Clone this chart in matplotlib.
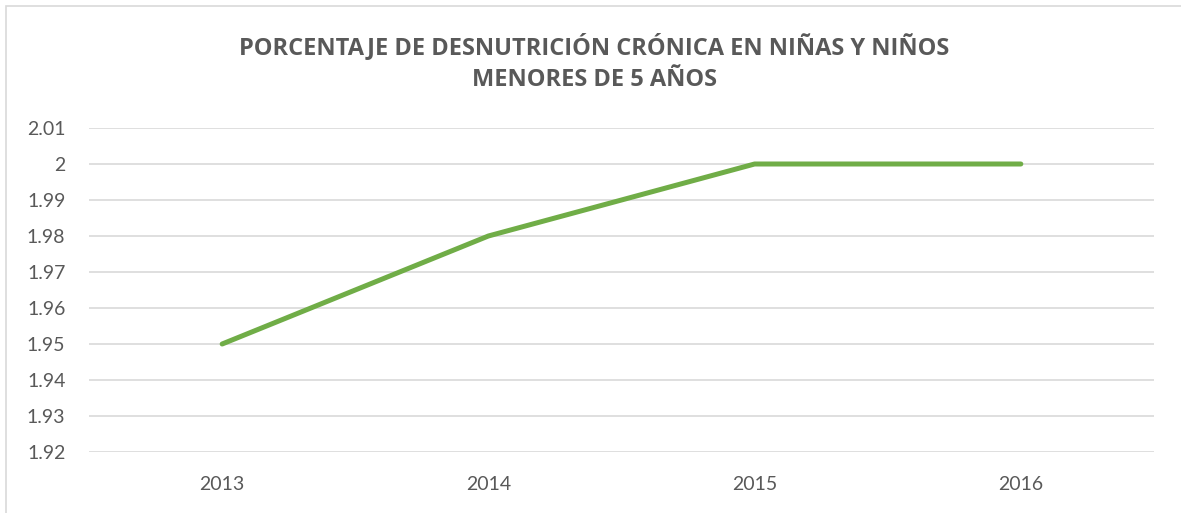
# Gráfico de desnutrición crónica (menores de 5 años)
import matplotlib
matplotlib.use("Agg")
import matplotlib.pyplot as plt
from matplotlib.patches import Rectangle

# -----------------------------------------
# Datos
# -----------------------------------------
anios = ["2013", "2014", "2015", "2016"]
porcentaje = [1.95, 1.98, 2.00, 2.00]
ticks_y = [1.92, 1.93, 1.94, 1.95, 1.96, 1.97, 1.98, 1.99, 2.00, 2.01]
etiquetas_y = ["1.92", "1.93", "1.94", "1.95", "1.96", "1.97", "1.98", "1.99", "2", "2.01"]

titulo = "PORCENTAJE DE DESNUTRICIÓN CRÓNICA EN NIÑAS Y NIÑOS\nMENORES DE 5 AÑOS"

GRIS_TEXTO = "#595959"
VERDE = "#70AD47"

plt.rcParams["font.family"] = ["Lato", "DejaVu Sans"]

fig = plt.figure(figsize=(11.81, 5.13), dpi=100)
ax = fig.add_axes([0.0754, 0.1189, 0.9017, 0.6316])

x = list(range(len(anios)))
ax.plot(x, porcentaje, color=VERDE, linewidth=3.6, solid_capstyle="round", zorder=3)

ax.set_xlim(-0.5, len(anios) - 0.5)
ax.set_ylim(1.92, 2.01)
ax.set_yticks(ticks_y)
ax.set_yticklabels(etiquetas_y)
ax.set_xticks(x)
ax.set_xticklabels(anios)

ax.grid(axis="y", color="#D9D9D9", linewidth=1.2)
ax.set_axisbelow(True)
for lado in ax.spines.values():
    lado.set_visible(False)
ax.tick_params(axis="both", length=0, labelsize=14, colors=GRIS_TEXTO)
ax.tick_params(axis="y", pad=17)
ax.tick_params(axis="x", pad=17)

fig.text(0.503, 0.878, titulo, ha="center", va="center", fontsize=17,
         fontweight="bold", family=["Open Sans", "DejaVu Sans"],
         color=GRIS_TEXTO, linespacing=1.48)

# borde del área del gráfico (recortado a derecha y abajo)
fig.patches.append(Rectangle((6 / 1181, -0.1), 1.2, 1.1 - 6 / 513,
                             transform=fig.transFigure, fill=False,
                             edgecolor="#D9D9D9", linewidth=1.2))

fig.savefig("out.png", dpi=100)
